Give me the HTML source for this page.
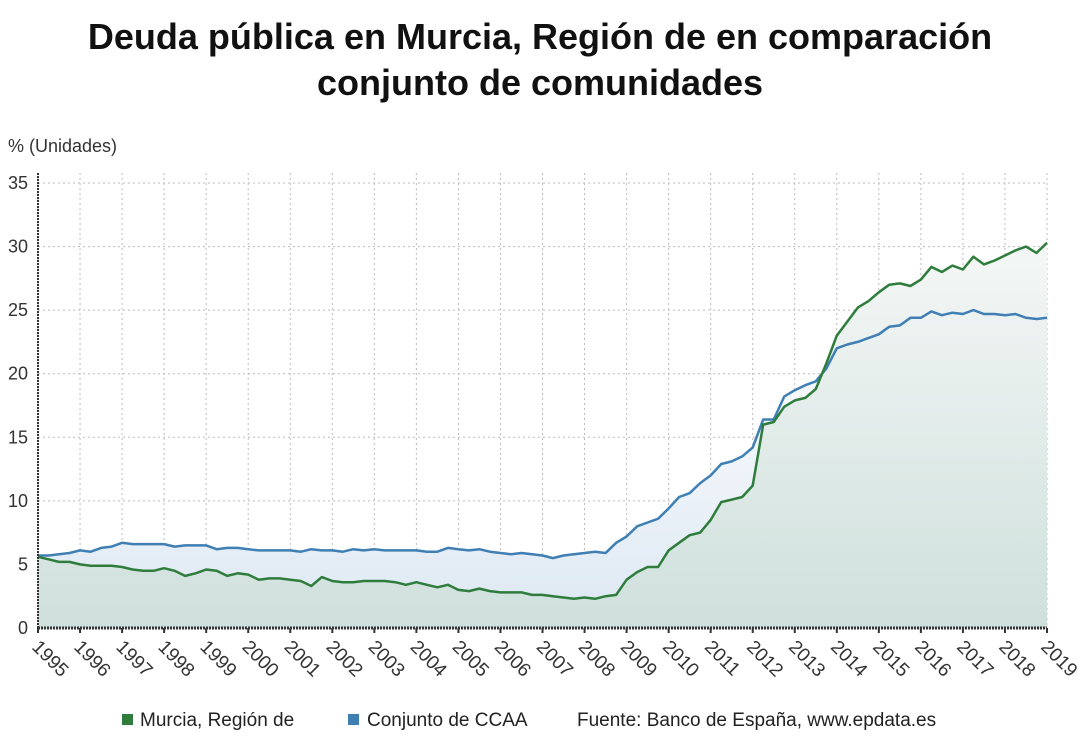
<!DOCTYPE html>
<html><head><meta charset="utf-8">
<style>
body{margin:0;background:#fff;font-family:"Liberation Sans","DejaVu Sans",sans-serif;}
#wrap{position:relative;width:1080px;height:745px;overflow:hidden;}
h1{position:absolute;top:14px;left:0;width:1080px;margin:0;text-align:center;font-size:36px;line-height:46px;font-weight:bold;color:#111;}
</style></head>
<body>
<div id="wrap">
<h1>Deuda pública en Murcia, Región de en comparación<br>conjunto de comunidades</h1>
<svg id="chart" width="1080" height="745" style="position:absolute;left:0;top:0"></svg>
</div>
<script>
const years=["1995","1996","1997","1998","1999","2000","2001","2002","2003","2004","2005","2006","2007","2008","2009","2010","2011","2012","2013","2014","2015","2016","2017","2018","2019"];
const yTicks=[0,5,10,15,20,25,30,35];
const murcia=[5.6,5.4,5.2,5.2, 5.0,4.9,4.9,4.9, 4.8,4.6,4.5,4.5, 4.7,4.5,4.1,4.3, 4.6,4.5,4.1,4.3, 4.2,3.8,3.9,3.9, 3.8,3.7,3.3,4.0, 3.7,3.6,3.6,3.7, 3.7,3.7,3.6,3.4, 3.6,3.4,3.2,3.4, 3.0,2.9,3.1,2.9, 2.8,2.8,2.8,2.6, 2.6,2.5,2.4,2.3, 2.4,2.3,2.5,2.6, 3.8,4.4,4.8,4.8, 6.1,6.7,7.3,7.5, 8.5,9.9,10.1,10.3, 11.2,16.0,16.2,17.4, 17.9,18.1,18.8,20.8, 23.0,24.1,25.2,25.7, 26.4,27.0,27.1,26.9, 27.4,28.4,28.0,28.5, 28.2,29.2,28.6,28.9, 29.3,29.7,30.0,29.5, 30.3];
const ccaa=[5.7,5.7,5.8,5.9, 6.1,6.0,6.3,6.4, 6.7,6.6,6.6,6.6, 6.6,6.4,6.5,6.5, 6.5,6.2,6.3,6.3, 6.2,6.1,6.1,6.1, 6.1,6.0,6.2,6.1, 6.1,6.0,6.2,6.1, 6.2,6.1,6.1,6.1, 6.1,6.0,6.0,6.3, 6.2,6.1,6.2,6.0, 5.9,5.8,5.9,5.8, 5.7,5.5,5.7,5.8, 5.9,6.0,5.9,6.7, 7.2,8.0,8.3,8.6, 9.4,10.3,10.6,11.4, 12.0,12.9,13.1,13.5, 14.2,16.4,16.4,18.2, 18.7,19.1,19.4,20.4, 22.0,22.3,22.5,22.8, 23.1,23.7,23.8,24.4, 24.4,24.9,24.6,24.8, 24.7,25.0,24.7,24.7, 24.6,24.7,24.4,24.3, 24.4];
const X0=38,X1=1047,Y0=628,Y1=183;
const xq=i=>X0+(X1-X0)*i/(murcia.length-1);
const xy=i=>X0+(X1-X0)*i/(years.length-1);
const yv=v=>Y0-(Y0-Y1)*v/35;
const NS="http://www.w3.org/2000/svg";
const svg=document.getElementById('chart');
function mk(t,a,p){const e=document.createElementNS(NS,t);for(const k in a)e.setAttribute(k,a[k]);(p||svg).appendChild(e);return e;}
const defs=mk('defs',{});
const g1=mk('linearGradient',{id:'gb',x1:0,y1:0,x2:0,y2:1},defs);
mk('stop',{offset:'0','stop-color':'#ffffff'},g1);mk('stop',{offset:'1','stop-color':'#dde8f3'},g1);
const g2=mk('linearGradient',{id:'gg',x1:0,y1:0,x2:0,y2:1},defs);
mk('stop',{offset:'0','stop-color':'#f4f7f6'},g2);mk('stop',{offset:'1','stop-color':'#cfe0dc'},g2);
yTicks.forEach(v=>{
 const l=mk('line',{x1:X0,x2:X1,y1:yv(v),y2:yv(v),stroke:'#bbb','stroke-dasharray':'2,3'});
 
 const t=mk('text',{x:28,y:yv(v)+6,'text-anchor':'end','font-size':'18',fill:'#333'});t.textContent=v;
 
});
years.forEach((y,i)=>{
 const l=mk('line',{x1:xy(i),x2:xy(i),y1:Y1-10,y2:Y0,stroke:'#bbb','stroke-dasharray':'2,3'});
 
 mk('line',{x1:xy(i),x2:xy(i),y1:Y0,y2:Y0+5,stroke:'#333','stroke-width':2});
 const t=mk('text',{x:xy(i)-7,y:Y0+20,'font-size':'19',fill:'#333',transform:`rotate(45 ${xy(i)-7} ${Y0+20})`});t.textContent=y;
 
});
function path(arr){return arr.map((v,i)=>(i?'L':'M')+xq(i).toFixed(1)+' '+yv(v).toFixed(1)).join(' ');}
function area(arr){return path(arr)+` L${X1} ${Y0} L${X0} ${Y0} Z`;}
let a=mk('path',{d:area(ccaa),fill:'url(#gb)'});
a=mk('path',{d:area(murcia),fill:'url(#gg)'});
let p=mk('path',{d:path(ccaa),fill:'none',stroke:'#3f7fb3','stroke-width':2.5,'stroke-linejoin':'round'});

p=mk('path',{d:path(murcia),fill:'none',stroke:'#2e7d3c','stroke-width':2.5,'stroke-linejoin':'round'});

let ax=mk('line',{x1:X0,x2:X0,y1:Y1-10,y2:Y0,stroke:'#333','stroke-width':2,'stroke-dasharray':'2,1'});

ax=mk('line',{x1:X0,x2:X1,y1:Y0,y2:Y0,stroke:'#333','stroke-width':3,'stroke-dasharray':'2,1'});

let t=mk('text',{x:8,y:152,'font-size':'18',fill:'#333'});t.textContent='% (Unidades)';

const lg=mk('g',{});
mk('rect',{x:122,y:714,width:11,height:11,fill:'#2e7d3c'},lg);
t=mk('text',{x:140,y:726,'font-size':'19',fill:'#222'},lg);t.textContent='Murcia, Región de';

mk('rect',{x:348,y:714,width:11,height:11,fill:'#3f7fb3'},lg);
t=mk('text',{x:367,y:726,'font-size':'19',fill:'#222'},lg);t.textContent='Conjunto de CCAA';

t=mk('text',{x:577,y:726,'font-size':'19',fill:'#222'},lg);t.textContent='Fuente: Banco de España, www.epdata.es';

</script>
</body></html>
